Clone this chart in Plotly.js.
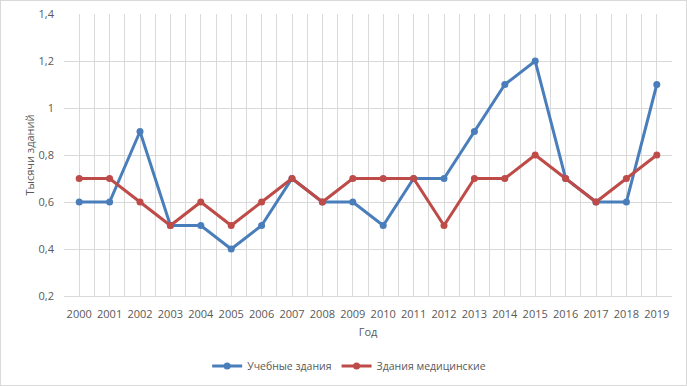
<!DOCTYPE html>
<html><head><meta charset="utf-8">
<script src="https://cdn.plot.ly/plotly-3.0.1.min.js"></script>
<style>
html,body{margin:0;padding:0;background:#fff;}
#chart{width:687px;height:386px;}
#frame{position:absolute;left:0;top:0;width:685px;height:384px;border:1px solid #d9d9d9;pointer-events:none;}
</style></head>
<body>
<div id="chart"></div><div id="frame"></div>
<script>
const years = ["2000","2001","2002","2003","2004","2005","2006","2007","2008","2009","2010","2011","2012","2013","2014","2015","2016","2017","2018","2019"];
const educational = [0.6,0.6,0.9,0.5,0.5,0.4,0.5,0.7,0.6,0.6,0.5,0.7,0.7,0.9,1.1,1.2,0.7,0.6,0.6,1.1];
const medical = [0.7,0.7,0.6,0.5,0.6,0.5,0.6,0.7,0.6,0.7,0.7,0.7,0.5,0.7,0.7,0.8,0.7,0.6,0.7,0.8];
const seriesNames = ["Учебные здания","Здания медицинские"];
const xTitle = "Год";
const yTitle = "Тысячи зданий";

const xs = years.map(Number);
const font = {family:"Open Sans, Noto Sans, sans-serif", size:11, color:"#595959"};
const legendFont = {family:"Open Sans, Noto Sans, sans-serif", size:10.5, color:"#595959"};
const traces = [
  {x:xs, y:educational, name:seriesNames[0], type:"scatter", mode:"lines+markers",
   line:{color:"#4a7ebb", width:3}, marker:{color:"#4a7ebb", size:7}},
  {x:xs, y:medical, name:seriesNames[1], type:"scatter", mode:"lines+markers",
   line:{color:"#be4b48", width:3}, marker:{color:"#be4b48", size:7}}
];
const layout = {
  width:687, height:386,
  margin:{l:64, r:15, t:14, b:90, autoexpand:false},
  paper_bgcolor:"#fff", plot_bgcolor:"#fff",
  separators:", ",
  font:font,
  showlegend:true,
  legend:{orientation:"h", x:0.469, xanchor:"center", y:-0.248, yanchor:"middle", font:legendFont, itemwidth:30},
  xaxis:{
    range:[1999.5,2019.5], tickmode:"array", tickvals:xs, ticktext:years,
    showgrid:true, gridcolor:"#d9d9d9", gridwidth:1,
    minor:{tickmode:"linear", tick0:1999.5, dtick:1, showgrid:true, gridcolor:"#d9d9d9", gridwidth:1},
    zeroline:false, showline:true, linecolor:"#d9d9d9", ticks:"", fixedrange:true,
    ticklabelstandoff:8, automargin:false,
    tickfont:font, title:{text:xTitle, font:font, standoff:8}
  },
  yaxis:{
    range:[0.2,1.4], dtick:0.2, tick0:0.2, showgrid:true, gridcolor:"#d9d9d9",
    zeroline:false, showline:false, ticks:"", ticklen:0, tickfont:font,
    ticklabelstandoff:9, automargin:false,
    title:{text:yTitle, font:font, standoff:1}
  }
};
Plotly.newPlot("chart", traces, layout, {displayModeBar:false, staticPlot:true});
</script>
</body></html>
